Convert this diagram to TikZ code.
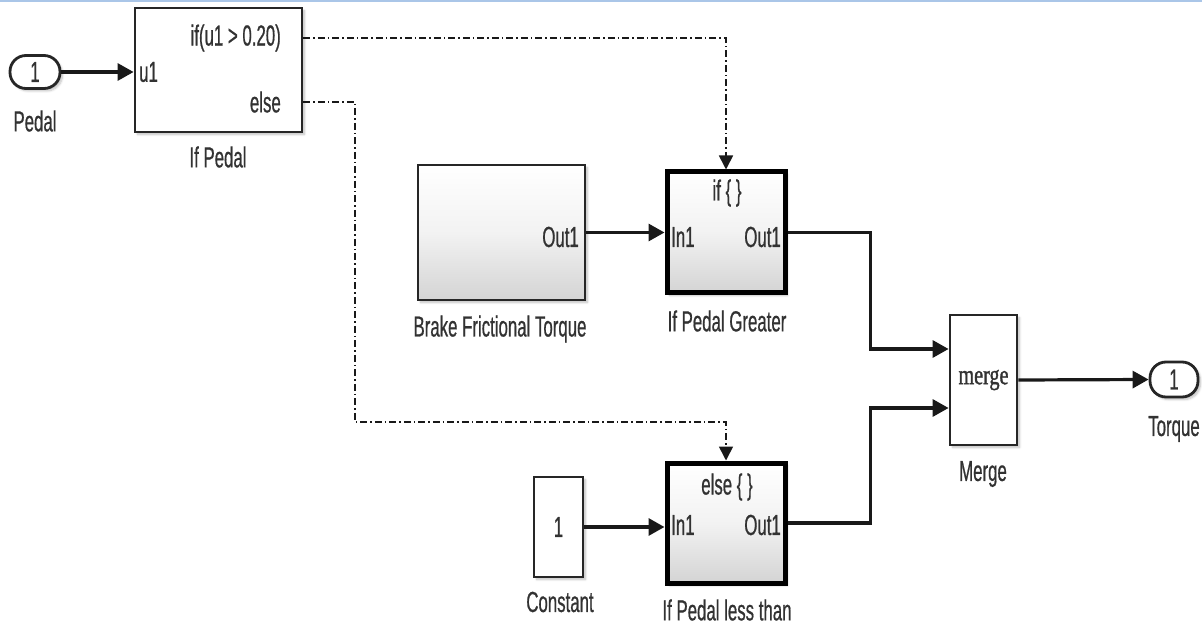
\documentclass[tikz,border=0pt]{standalone}
\usepackage{fontspec}
\setmainfont{Liberation Sans}[FakeStretch=0.58, FakeBold=0.6]
\newfontfamily\mergefont{Liberation Serif}[FakeStretch=0.72, FakeBold=1.2]
\usetikzlibrary{arrows.meta,shadows.blur,calc}
\definecolor{topline}{RGB}{170,198,232}
\definecolor{txt}{RGB}{50,50,50}
\tikzset{
  blk/.style={draw=black!85, line width=2.8pt, inner sep=0pt, fill=white,
    blur shadow={shadow xshift=2.5pt, shadow yshift=-2.5pt, shadow blur steps=6, shadow opacity=25}},
  grad/.style={top color=white, bottom color=black!17, middle color=white!95!black},
  sub/.style={blk, line width=5pt, draw=black},
  port/.style={blk, rounded corners=16pt},
  lab/.style={text=txt, font=\fontsize{29}{31}\selectfont, inner sep=0pt},
  wire/.style={line width=3.2pt, draw=black!90, -{Triangle[length=16pt,width=17pt]}},
  ctrl/.style={line width=1.7pt, draw=black!90, dash pattern=on 7pt off 3pt on 1.5pt off 3pt, -{Triangle[length=14pt,width=14pt]}},
}
\begin{document}
\begin{tikzpicture}[x=1pt,y=-1pt]
\useasboundingbox (0,0) rectangle (1202,628);
\draw[topline, line width=2pt] (0,1) -- (1202,1);

% blocks
\node[port, minimum width=50pt, minimum height=33pt] (pedal) at (35,72) {};
\node[lab] (pedaln) at (35,72) {1};
\node[lab] (pedall) at (35,121) {Pedal};

\node[blk, minimum width=167pt, minimum height=124pt] (ifp) at (218.5,70) {};
\node[lab, anchor=west] (u1) at (139,72) {u1};
\node[lab, anchor=east] (ifc) at (281,38) {if(u1 > 0.20)};
\node[lab, anchor=east] (elc) at (281,102) {else};
\node[lab] (ifpl) at (218,157) {If Pedal};

\node[blk, grad, minimum width=167pt, minimum height=135pt] (brake) at (501.5,232.5) {};
\node[lab, anchor=east] (bout) at (579,237) {Out1};
\node[lab] (brakel) at (500,329) {Brake Frictional Torque};

\node[sub, grad, minimum width=118pt, minimum height=121pt] (ipg) at (726,232.5) {};
\node[lab] (ipgt) at (727,193) {if \{ \}};
\node[lab, anchor=west] (ipgi) at (671,237) {In1};
\node[lab, anchor=east] (ipgo) at (781,237) {Out1};
\node[lab] (ipgl) at (727,321) {If Pedal Greater};

\node[blk, minimum width=49pt, minimum height=100pt] (const) at (558.5,527) {};
\node[lab] (constn) at (558.5,527) {1};
\node[lab] (constl) at (560,602) {Constant};

\node[sub, grad, minimum width=118pt, minimum height=120pt] (ipl) at (726,523) {};
\node[lab] (iplt) at (727,487) {else \{ \}};
\node[lab, anchor=west] (ipli) at (671,525) {In1};
\node[lab, anchor=east] (iplo) at (781,525) {Out1};
\node[lab] (ipll) at (727,610) {If Pedal less than};

\node[blk, minimum width=67pt, minimum height=130pt] (merge) at (983.5,380) {};
\node[text=txt, font=\mergefont\fontsize{28}{30}\selectfont, inner sep=0pt] (mergen) at (983.5,380) {merge};
\node[lab] (mergel) at (983,474) {Merge};

\node[port, minimum width=48pt, minimum height=35pt] (torque) at (1174,379.5) {};
\node[lab] (torquen) at (1174,379.5) {1};
\node[lab] (torquel) at (1174,429) {Torque};

% connectors
\draw[wire] (pedal.east) -- (pedal.east -| ifp.west);
\draw[ctrl] ([yshift=32pt]ifp.east) -| (ipg.north);
\coordinate (ebend) at (355,422);
\draw[ctrl] ([yshift=-32pt]ifp.east) -| (ebend) -| (ipl.north);
\draw[wire] (brake.east) -- (ipg.west);
\draw[wire] (const.east) -- (const.east -| ipl.west);
\draw[wire] (ipg.east) -- ++(83,0) |- ([yshift=31pt]merge.west);
\draw[wire] (ipl.east) -- ++(83,0) |- ([yshift=-28pt]merge.west);
\draw[wire] (merge.east) -- (torque.west);
\end{tikzpicture}
\end{document}
